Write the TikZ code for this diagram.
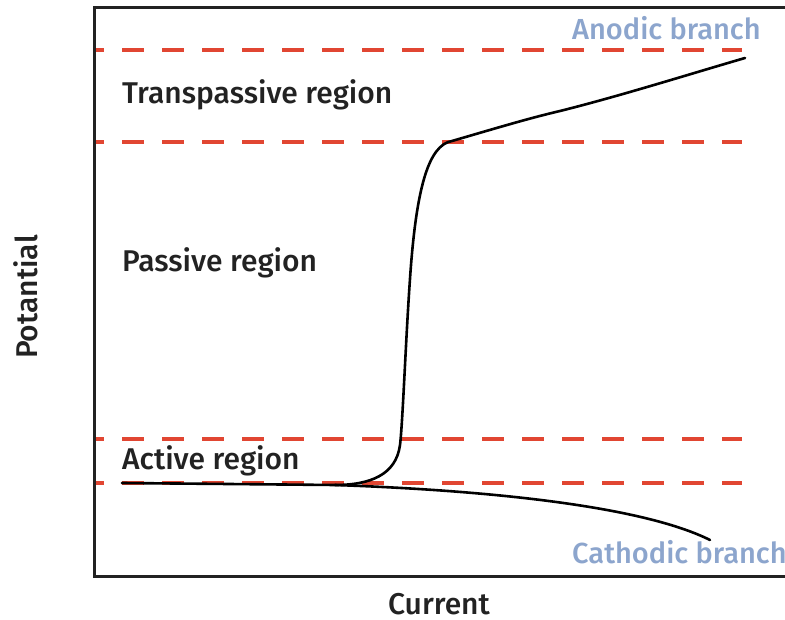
\documentclass[tikz,border=0pt]{standalone}
\usepackage{fontspec}
\setmainfont{Fira Sans Medium}
\definecolor{dashred}{HTML}{E14632}
\definecolor{branchblue}{HTML}{8CA5CD}
\definecolor{framegray}{HTML}{222222}
\begin{document}
\begin{tikzpicture}[x=1pt,y=-1pt,
  frame/.style={line width=3pt, draw=framegray},
  limit/.style={line width=3.2pt, draw=dashred, dash pattern=on 22pt off 18pt, dash phase=12pt},
  curve/.style={line width=2.6pt, draw=black, line cap=round, line join=round},
  region/.style={anchor=base west, inner sep=0pt, font=\fontsize{30}{33}\selectfont, text=framegray},
  branch/.style={anchor=base west, inner sep=0pt, font=\fontsize{29}{32}\selectfont, text=branchblue},
  axis/.style={inner sep=0pt, font=\fontsize{30}{33}\selectfont, text=framegray}]
\useasboundingbox (0,0) rectangle (785,620);
\fill[white] (0,0) rectangle (785,620);
% dashed limit lines
\draw[limit] (94,50) -- (742,50);
\draw[limit] (94,142) -- (742,142);
\draw[limit] (94,439) -- (742,439);
\draw[limit] (94,483) -- (742,483);
% frame
\draw[frame] (786,8) -- (94,8) -- (94,576) -- (786,576);
% anodic curve
\draw[curve] (122,483) -- (335,485)
  .. controls (370,485) and (396,475) .. (400,445)
  .. controls (403,420) and (406,330) .. (411,265)
  .. controls (417,190) and (428,145) .. (452,141)
  .. controls (500,127) and (530,118) .. (560,111)
  .. controls (620,96) and (690,74) .. (745,58);
% cathodic curve
\draw[curve] (335,485) .. controls (480,490) and (640,505) .. (710,540);
% labels
\node[region] (trans) at (122,104) {Transpassive region};
\node[region] (pass) at (122,272) {Passive region};
\node[region] (act) at (122,469) {Active region};
\node[branch] (anod) at (572,40) {Anodic branch};
\node[branch] (cath) at (572,563) {Cathodic branch};
\node[axis, anchor=base] (cur) at (439,614) {Current};
\node[axis, anchor=base, rotate=90] (pot) at (37,297) {Potantial};
\end{tikzpicture}
\end{document}
